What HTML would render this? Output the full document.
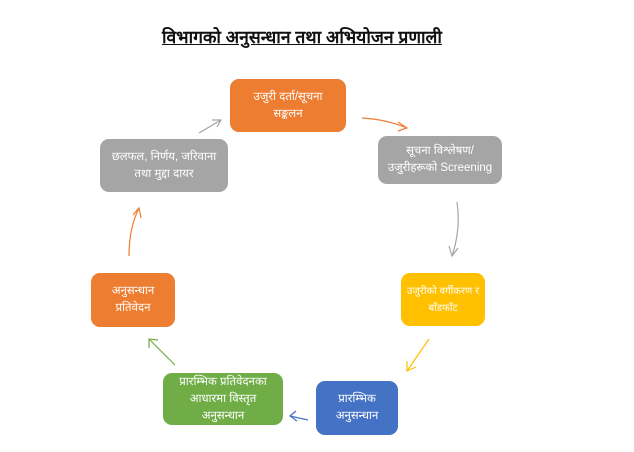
<!DOCTYPE html>
<html><head><meta charset="utf-8"><style>
body{margin:0;width:634px;height:452px;background:#fff;position:relative;overflow:hidden;font-family:"Liberation Sans","Noto Sans CJK SC",sans-serif;}
.t{position:absolute;left:162px;width:290px;top:25px;text-align:left;font-size:17.5px;font-weight:bold;color:#111;white-space:nowrap;}
.t span{text-decoration:underline;}
.b{position:absolute;border-radius:9px;color:#fff;font-size:11.5px;line-height:17px;display:flex;align-items:center;justify-content:center;text-align:center;box-sizing:border-box;padding:2px;}
svg{position:absolute;left:0;top:0;}
</style></head><body>
<div class="t"><span>विभागको अनुसन्धान तथा अभियोजन प्रणाली</span></div>
<div class="b" style="left:230px;top:79px;width:116px;height:53px;background:#ed7d31">उजुरी दर्ता/सूचना<br>सङ्कलन</div>
<div class="b" style="left:378px;top:136px;width:124px;height:48px;background:#a5a5a5">सूचना विश्लेषण/<br>उजुरीहरूको Screening</div>
<div class="b" style="left:401px;top:273px;width:84px;height:53px;background:#ffc000;font-size:10px">उजुरीको वर्गीकरण र<br>बाँडफाँट</div>
<div class="b" style="left:316px;top:381px;width:82px;height:54px;background:#4472c4">प्रारम्भिक<br>अनुसन्धान</div>
<div class="b" style="left:163px;top:373px;width:120px;height:52px;background:#70ad47">प्रारम्भिक प्रतिवेदनका<br>आधारमा विस्तृत<br>अनुसन्धान</div>
<div class="b" style="left:91px;top:273px;width:84px;height:54px;background:#ed7d31">अनुसन्धान<br>प्रतिवेदन</div>
<div class="b" style="left:100px;top:139px;width:128px;height:53px;background:#a5a5a5">छलफल, निर्णय, जरिवाना<br>तथा मुद्दा दायर</div>
<svg width="634" height="452" fill="none" stroke-width="1.2">
<path d="M362 118 Q385 119 407 128" stroke="#ed7d31"/><path d="M398 122 L407 128 L398 131" stroke="#ed7d31"/>
<path d="M457 202 Q461 230 452 256" stroke="#a5a5a5"/><path d="M449 246 L452 256 L458 248" stroke="#a5a5a5"/>
<path d="M429 339 L407 371" stroke="#ffc000"/><path d="M407 361 L407 371 L416 367" stroke="#ffc000"/>
<path d="M308 420 L290 416" stroke="#4472c4"/><path d="M296 411 L290 416 L297 421" stroke="#4472c4"/>
<path d="M175 365 L149 339" stroke="#70ad47"/><path d="M149 348 L149 339 L158 340" stroke="#70ad47"/>
<path d="M129 256 Q129 228 139 208" stroke="#ed7d31"/><path d="M133 215 L139 208 L141 218" stroke="#ed7d31"/>
<path d="M199 133 L221 120" stroke="#a5a5a5"/><path d="M212 120 L221 120 L217 127" stroke="#a5a5a5"/>
</svg>
</body></html>
